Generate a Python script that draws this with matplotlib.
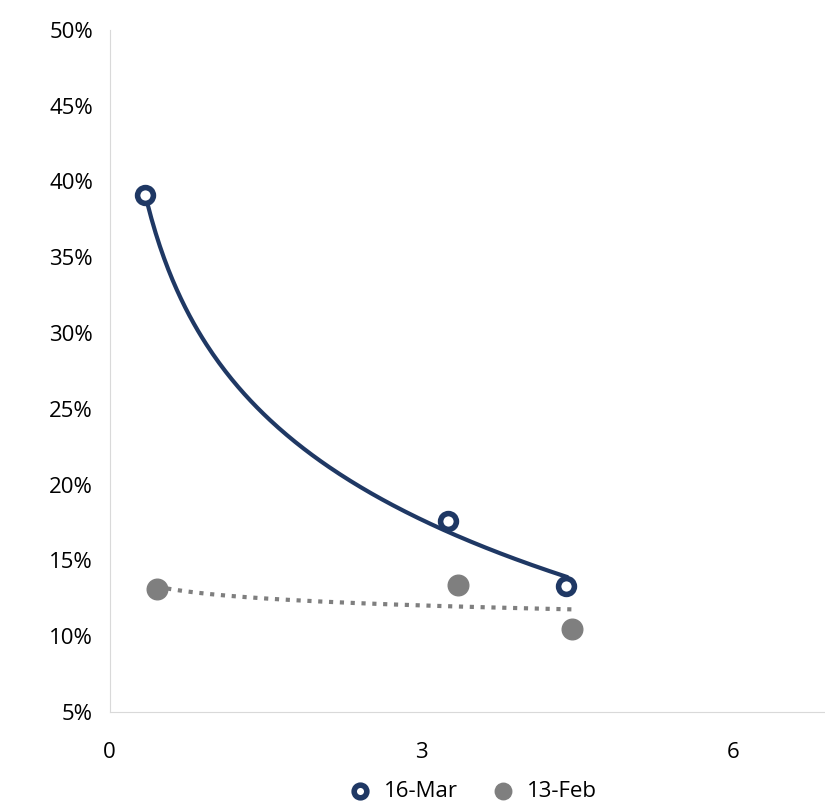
import numpy as np
import matplotlib
matplotlib.use("Agg")
import matplotlib.pyplot as plt

plt.rcParams['font.family'] = ['Open Sans', 'DejaVu Sans']

mar_x = [0.34, 3.25, 4.39]
mar_y = [0.391, 0.176, 0.133]
feb_x = [0.45, 3.35, 4.45]
feb_y = [0.131, 0.134, 0.105]

fig = plt.figure(figsize=(8.25, 8.09), dpi=100)
ax = fig.add_axes([0.133, 0.12, 0.867, 0.843])

def logfit(x, y):
    a, b = np.polyfit(np.log(x), y, 1)
    xs = np.linspace(min(x), max(x), 200)
    return xs, a*np.log(xs)+b

xs, ys = logfit(mar_x, mar_y)
ax.plot(xs, ys, color='#1F3864', lw=3, zorder=2)
xs, ys = logfit(feb_x, feb_y)
ax.plot(xs, ys, color='#7F7F7F', lw=3, linestyle=(0, (1, 1.6)), zorder=2)

ax.scatter(mar_x, mar_y, s=130, facecolor='white', edgecolor='#1F3864', linewidth=4, zorder=3, label='16-Mar')
ax.scatter(feb_x, feb_y, s=220, facecolor='#7F7F7F', edgecolor='#7F7F7F', zorder=3, label='13-Feb')

ax.set_xlim(0, 6.88)
ax.set_ylim(0.05, 0.5)
ax.set_xticks([0, 3, 6])
ax.set_yticks(np.arange(0.05, 0.501, 0.05))
ax.set_yticklabels([f"{int(round(v*100))}%" for v in np.arange(0.05, 0.501, 0.05)])
ax.tick_params(length=0, labelsize=16)
ax.tick_params(axis='y', pad=12)
ax.tick_params(axis='x', pad=22)
for s in ['top', 'right']:
    ax.spines[s].set_visible(False)
for s in ['left', 'bottom']:
    ax.spines[s].set_color('#D9D9D9')
ax.legend(loc='upper center', bbox_to_anchor=(0.5, -0.085), ncol=2, frameon=False,
          fontsize=16, handletextpad=0.1, columnspacing=1.0, markerscale=0.8,
          borderpad=0)
fig.savefig('out.png')
